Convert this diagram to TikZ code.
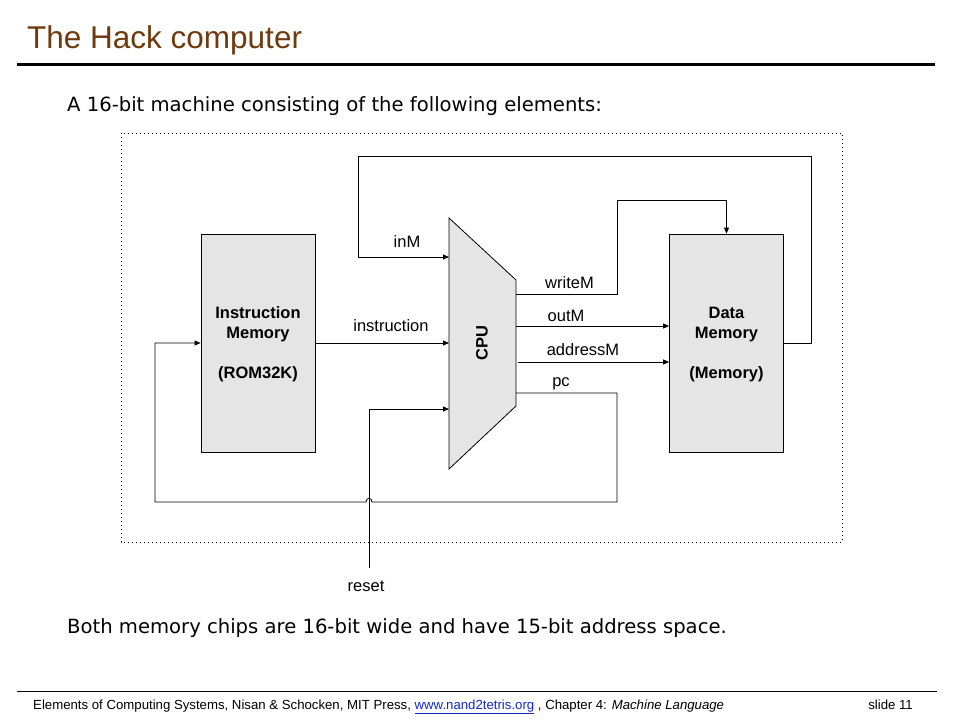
\documentclass[tikz,border=0pt]{standalone}
\usepackage{fontspec}
\setmainfont{Liberation Sans}
\newfontfamily\comicfont{DejaVu Sans}
\usetikzlibrary{arrows.meta}
\definecolor{titlebrown}{RGB}{110,58,14}
\definecolor{memgray}{RGB}{229,229,229}
\definecolor{linkblue}{RGB}{20,40,200}
\begin{document}
\begin{tikzpicture}[x=1pt,y=-1pt,
  wire/.style={line width=0.8pt},
  arr/.style={wire,-{Triangle[length=6pt,width=5pt]}},
  mem/.style={draw,fill=memgray,line width=0.8pt,minimum width=114pt,minimum height=218pt,inner sep=0pt},
  memtxt/.style={font=\fontsize{16.5}{18}\selectfont\bfseries,anchor=base,inner sep=0pt},
  lbl/.style={font=\fontsize{16.5}{18}\selectfont,anchor=base,inner sep=0pt},
  bodytxt/.style={font=\comicfont\fontsize{19.6}{22}\selectfont,anchor=base west,inner sep=0pt},
  foot/.style={font=\fontsize{13.2}{15}\selectfont,anchor=base west,inner sep=0pt}]
\useasboundingbox (0,0) rectangle (960,720);
% title
\node[anchor=base west,inner sep=0pt,text=titlebrown,font=\fontsize{31.5}{36}\selectfont] (title) at (27,48) {The Hack computer};
\draw[line width=3pt] (17,64) coordinate (trl) -- (935,64) coordinate (trr);
\node[bodytxt] (sub) at (67,111) {A 16-bit machine consisting of the following elements:};
% dotted frame
\draw[line width=1pt,dash pattern=on 1pt off 3pt] (121,133) rectangle (842,542);
% memories
\node[mem] (im) at (258,343) {};
\node[memtxt] (imt1) at (258,318) {Instruction};
\node[memtxt] (imt2) at (258,338) {Memory};
\node[memtxt] (imt3) at (258,378) {(ROM32K)};
\node[mem] (dm) at (726.5,343) {};
\node[memtxt] (dmt1) at (726.5,318) {Data};
\node[memtxt] (dmt2) at (726.5,338) {Memory};
\node[memtxt] (dmt3) at (726.5,378) {(Memory)};
% CPU
\coordinate (cputl) at (449,218);
\coordinate (cputr) at (516,280);
\coordinate (cpubr) at (516,406);
\coordinate (cpubl) at (449,469);
\draw[fill=memgray,line width=0.8pt] (cputl) -- (cputr) -- (cpubr) -- (cpubl) -- cycle;
\node[font=\fontsize{16.5}{18}\selectfont\bfseries,rotate=90,inner sep=0pt] (cpu) at (482,343) {CPU};
% ports
\coordinate (pinM) at (449,257);
\coordinate (pins) at (449,343);
\coordinate (preset) at (449,409);
\coordinate (pwrite) at (516,294);
\coordinate (pout) at (516,326);
\coordinate (paddr) at (518,362);
\coordinate (ppc) at (516,393);
% turning points
\coordinate (fbR) at (811,156);
\coordinate (fbL) at (358,156);
\coordinate (wmT) at (617,200);
\coordinate (pcB) at (617,502);
\coordinate (hop) at (369,502);
\coordinate (lpB) at (155,502);
\coordinate (rs) at (369,568);
% connectors
\draw[arr] (dm.east) -| (fbR) -- (fbL) |- (pinM);
\draw[arr] (im.east) -- (pins);
\draw[arr] (rs) |- (preset);
\draw[arr] (pwrite) -| (wmT) -| (dm.north);
\draw[arr] (pout) -- (pout -| dm.west);
\draw[arr] (paddr) -- (paddr -| dm.west);
\draw[arr] (ppc) -| (pcB) -- ([xshift=3pt]hop) .. controls ([xshift=3pt,yshift=5pt]hop) and ([xshift=-3pt,yshift=5pt]hop) .. ([xshift=-3pt]hop) -- (lpB) |- (im.west);
% labels
\node[lbl] (linM) at (407,247) {inM};
\node[lbl] (lins) at (391,331) {instruction};
\node[lbl] (lw) at (569.5,288) {writeM};
\node[lbl] (lo) at (566,321) {outM};
\node[lbl] (la) at (583,355) {addressM};
\node[lbl] (lpc) at (561,386) {pc};
\node[lbl] (lrs) at (366,591) {reset};
% bottom text
\node[bodytxt] (both) at (67,633) {Both memory chips are 16-bit wide and have 15-bit address space.};
% footer
\draw[line width=0.8pt] (17,691) coordinate (frl) -- (937,691) coordinate (frr);
\node[foot] (ft) at (33,709) {Elements of Computing Systems, Nisan \& Schocken, MIT Press, {\color{linkblue}\underline{www.nand2tetris.org}} , Chapter 4: \textit{Machine Language}};
\node[foot,anchor=base east] (slide) at (913,709) {slide 11};
\end{tikzpicture}
\end{document}
